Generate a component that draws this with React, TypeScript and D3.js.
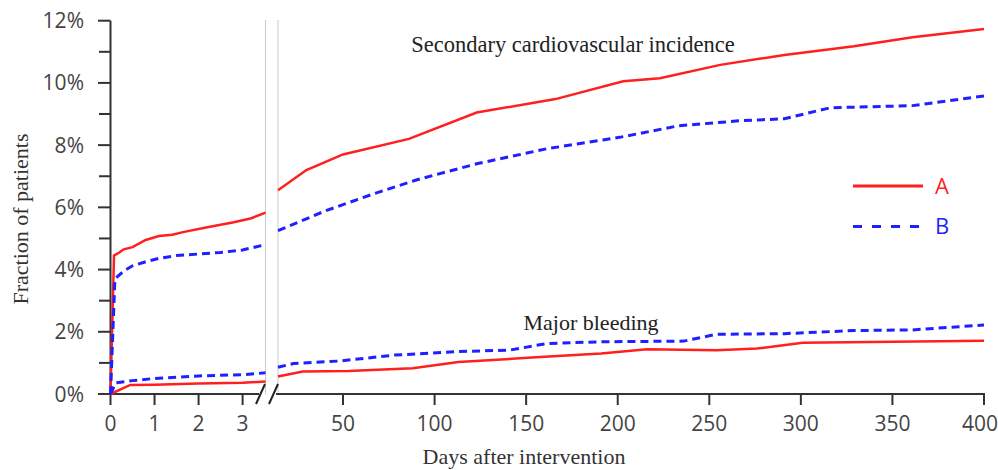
import React from "react";
import * as d3 from "d3";

type P = [number, number];

const yTicksMajor = [0, 2, 4, 6, 8, 10, 12];
const yTicksMinor = [1, 3, 5, 7, 9, 11];
const xTicksLeft = [0, 1, 2, 3];
const xTicksRight = [50, 100, 150, 200, 250, 300, 350, 400];

// Left panel (days 0 - 3.5)
const aCardioLeft: P[] = [[0, 0], [0.08, 4.45], [0.2, 4.55], [0.3, 4.65], [0.5, 4.72], [0.8, 4.95], [1.1, 5.08], [1.4, 5.12], [1.7, 5.22], [2.2, 5.36], [2.8, 5.52], [3.2, 5.65], [3.52, 5.83]];
const bCardioLeft: P[] = [[0, 0], [0.1, 3.7], [0.3, 3.95], [0.5, 4.12], [0.8, 4.25], [1.1, 4.36], [1.5, 4.45], [2, 4.5], [2.5, 4.55], [3, 4.63], [3.52, 4.8]];
const aBleedLeft: P[] = [[0, 0], [0.45, 0.29], [1, 0.3], [2, 0.34], [3, 0.36], [3.52, 0.4]];
const bBleedLeft: P[] = [[0, 0], [0.12, 0.36], [0.5, 0.43], [1, 0.5], [2, 0.58], [3, 0.62], [3.52, 0.68]];

// Right panel (days 14 - 400)
const aCardioRight: P[] = [[14.5, 6.55], [30, 7.2], [50, 7.7], [86, 8.2], [123, 9.05], [166, 9.48], [203, 10.05], [223, 10.15], [256, 10.58], [291, 10.9], [329, 11.18], [361, 11.47], [400, 11.73]];
const bCardioRight: P[] = [[14.5, 5.25], [40, 5.88], [65, 6.4], [90, 6.88], [123, 7.4], [161, 7.88], [201, 8.25], [233, 8.62], [266, 8.78], [291, 8.85], [316, 9.2], [361, 9.27], [400, 9.58]];
const aBleedRight: P[] = [[14.5, 0.56], [28, 0.72], [53, 0.74], [88, 0.83], [113, 1.03], [153, 1.17], [191, 1.3], [216, 1.44], [254, 1.41], [276, 1.46], [301, 1.65], [400, 1.71]];
const bBleedRight: P[] = [[14.5, 0.86], [23, 0.98], [48, 1.06], [78, 1.25], [111, 1.36], [141, 1.41], [161, 1.62], [191, 1.68], [236, 1.7], [254, 1.92], [291, 1.94], [329, 2.04], [361, 2.06], [400, 2.22]];

const seriesNames = ["A", "B"];
const RED = "#ff1f1f";
const BLUE = "#1f1fff";
const AXIS = "#333";
const SANS = "'Open Sans', 'Noto Sans', sans-serif";
const SERIF = "'Liberation Serif', 'DejaVu Serif', serif";

export default function App() {
  const W = 998, H = 470;
  const y = d3.scaleLinear().domain([0, 12]).range([394, 20.7]);
  const xL = d3.scaleLinear().domain([0, 3.52]).range([110.5, 265.5]);
  const xR = d3.scaleLinear().domain([14.5, 400]).range([278, 984]);
  const lineL = d3.line<P>().x(d => xL(d[0])).y(d => y(d[1]));
  const lineR = d3.line<P>().x(d => xR(d[0])).y(d => y(d[1]));
  const y0 = y(0);
  const breakL = xL(3.52);
  const breakR = xR(14.5);

  return (
    <svg width={W} height={H} style={{ position: "absolute", left: 0, top: 0, background: "#fff" }}>
      {/* break dotted guides */}
      {[breakL, breakR].map((bx, i) => (
        <line key={i} x1={bx} x2={bx} y1={y(12)} y2={y0} stroke="#999" strokeWidth={1} strokeDasharray="1,1" />
      ))}
      {/* y axis */}
      <line x1={110.5} x2={110.5} y1={y(12)} y2={y0 + 1} stroke={AXIS} strokeWidth={2} />
      {yTicksMajor.map(t => (
        <g key={"ym" + t}>
          <line x1={98} x2={110.5} y1={y(t)} y2={y(t)} stroke={AXIS} strokeWidth={2} />
          <text x={84} y={y(t)} dy="0.36em" textAnchor="end" fontFamily={SANS} fontSize={21} fill="#444">{t}%</text>
        </g>
      ))}
      {yTicksMinor.map(t => (
        <line key={"yn" + t} x1={99} x2={110.5} y1={y(t)} y2={y(t)} stroke={AXIS} strokeWidth={2} />
      ))}
      {/* x axis left */}
      <line x1={110.5} x2={259} y1={y0} y2={y0} stroke={AXIS} strokeWidth={2} />
      {xTicksLeft.map(t => (
        <g key={"xl" + t}>
          <line x1={xL(t)} x2={xL(t)} y1={y0} y2={y0 + 11} stroke={AXIS} strokeWidth={2} />
          <text x={xL(t)} y={y0 + 37} textAnchor="middle" fontFamily={SANS} fontSize={21} fill="#444">{t}</text>
        </g>
      ))}
      {/* x axis right */}
      <line x1={276} x2={985} y1={y0} y2={y0} stroke={AXIS} strokeWidth={2} />
      {xTicksRight.map(t => (
        <g key={"xr" + t}>
          <line x1={xR(t)} x2={xR(t)} y1={y0} y2={y0 + 11} stroke={AXIS} strokeWidth={2} />
          <text x={Math.min(xR(t), W - 18)} y={y0 + 37} textAnchor="middle" fontFamily={SANS} fontSize={21} fill="#444">{t}</text>
        </g>
      ))}
      {/* break slashes */}
      {[259, 272].map((sx, i) => (
        <line key={"s" + i} x1={sx - 3} x2={sx + 6} y1={y0 + 10} y2={y0 - 10} stroke="#222" strokeWidth={2} />
      ))}
      {/* series */}
      <path d={lineL(aCardioLeft)!} fill="none" stroke={RED} strokeWidth={2.5} />
      <path d={lineL(aBleedLeft)!} fill="none" stroke={RED} strokeWidth={2.5} />
      <path d={lineL(bCardioLeft)!} fill="none" stroke={BLUE} strokeWidth={3} strokeDasharray="8,5" />
      <path d={lineL(bBleedLeft)!} fill="none" stroke={BLUE} strokeWidth={3} strokeDasharray="8,5" />
      <path d={lineR(aCardioRight)!} fill="none" stroke={RED} strokeWidth={2.5} />
      <path d={lineR(aBleedRight)!} fill="none" stroke={RED} strokeWidth={2.5} />
      <path d={lineR(bCardioRight)!} fill="none" stroke={BLUE} strokeWidth={3} strokeDasharray="8,5" />
      <path d={lineR(bBleedRight)!} fill="none" stroke={BLUE} strokeWidth={3} strokeDasharray="8,5" />
      {/* annotations */}
      <text x={573} y={52} textAnchor="middle" fontFamily={SERIF} fontSize={22.5} fill="#222">Secondary cardiovascular incidence</text>
      <text x={591} y={330} textAnchor="middle" fontFamily={SERIF} fontSize={22} fill="#222">Major bleeding</text>
      {/* axis titles */}
      <text x={524} y={464} textAnchor="middle" fontFamily={SERIF} fontSize={22} fill="#333">Days after intervention</text>
      <text transform={`translate(28,219) rotate(-90)`} textAnchor="middle" fontFamily={SERIF} fontSize={22} fill="#333">Fraction of patients</text>
      {/* legend */}
      {seriesNames.map((n, i) => (
        <g key={n} transform={`translate(853,${186 + i * 40.5})`}>
          <line x1={0} x2={70} y1={0} y2={0} stroke={i === 0 ? RED : BLUE} strokeWidth={3} strokeDasharray={i === 0 ? undefined : "9,10"} />
          <text x={82} y={0} dy="0.36em" fontFamily={SANS} fontSize={22} fill={i === 0 ? RED : BLUE}>{n}</text>
        </g>
      ))}
    </svg>
  );
}
